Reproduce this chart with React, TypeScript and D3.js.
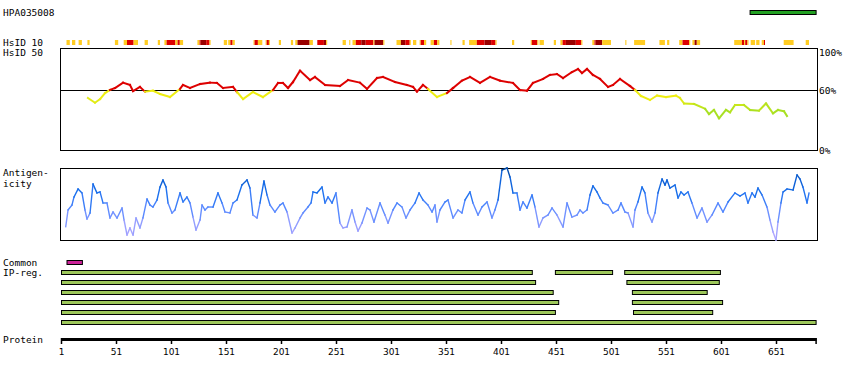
import React from "react";
import * as d3 from "d3";

const PROTEIN_LENGTH = 687;
const tickLabels = [1, 51, 101, 151, 201, 251, 301, 351, 401, 451, 501, 551, 601, 651];

// HsID 10 strip: [startResidue, endResidue, level] level 0=low,1=mid,2=high
const hsid10 = [
  [6, 9, 0], [11, 14, 0], [17, 20, 0], [25, 27, 0], [50, 53, 0], [58, 61, 0], [61, 67, 1], [67, 71, 0],
  [77, 80, 0], [89, 91, 0], [95, 97, 0], [97, 105, 1], [105, 107, 0], [107, 109, 1], [109, 112, 0],
  [125, 127, 0], [127, 128, 1], [128, 133, 2], [133, 136, 1], [136, 137, 0], [149, 152, 0], [153, 155, 0],
  [155, 157, 1], [157, 159, 0], [176, 177, 0], [177, 180, 1], [180, 184, 0], [187, 188, 0], [188, 190, 1],
  [190, 191, 0], [199, 201, 0], [210, 212, 0], [214, 216, 0], [216, 227, 2], [227, 230, 0], [234, 240, 1],
  [240, 242, 2], [242, 243, 0], [257, 260, 0], [263, 264, 0], [266, 269, 0], [269, 274, 1], [274, 278, 2],
  [278, 285, 1], [285, 286, 0], [286, 294, 2], [294, 295, 0], [306, 310, 0], [310, 314, 2], [314, 318, 1],
  [318, 319, 0], [321, 324, 0], [327, 328, 0], [328, 331, 1], [331, 333, 0], [337, 340, 0], [340, 343, 1],
  [343, 345, 0], [355, 356, 0], [366, 368, 0], [372, 379, 0], [379, 386, 1], [386, 392, 2], [392, 396, 1],
  [396, 397, 0], [411, 413, 0], [428, 429, 0], [429, 434, 1], [434, 435, 0], [436, 440, 0], [449, 451, 0],
  [455, 457, 0], [457, 460, 1], [460, 469, 2], [469, 474, 1], [474, 475, 0], [484, 486, 0], [486, 487, 1],
  [487, 493, 2], [493, 501, 0], [514, 515, 0], [522, 532, 0], [545, 550, 0], [552, 554, 0], [563, 566, 0],
  [566, 572, 1], [572, 573, 0], [575, 577, 0], [577, 579, 2], [579, 582, 0], [613, 620, 0], [620, 622, 1],
  [622, 623, 0], [623, 625, 1], [625, 626, 0], [628, 632, 0], [633, 636, 0], [638, 640, 0], [640, 641, 1],
  [658, 667, 0], [678, 681, 0],
];
const hsid10Colors = ["#FFCC22", "#DD0000", "#990000"];

// HsID 50 line: residue, percent identity
const hsid50Res = [25.5, 31.9, 36.5, 41, 45.5, 50.1, 57.4, 63.7, 66.5, 72.8, 77.4, 84.6, 91, 100.1, 109.2, 111.9, 118.3, 127.4, 136.5, 142.8, 148.3, 157.4, 161, 166.5, 175.5, 184.6, 193.7, 198.3, 202.8, 207.4, 211.9, 218.3, 227.4, 231.9, 241, 254.6, 261.9, 272.8, 279.2, 288.3, 293.7, 304.6, 315.5, 321, 324.6, 330.1, 334.6, 342.8, 351.9, 357.4, 365.5, 372.8, 381.9, 391, 400.1, 411.9, 418.3, 424.6, 430.1, 439.2, 445.5, 451.9, 457.4, 465.5, 471, 474.6, 479.2, 484.6, 491, 498.3, 502.8, 509.2, 518.3, 522.8, 528.3, 536.5, 542.8, 551, 560.1, 563.7, 567.4, 576.5, 586.5, 590.1, 594.6, 599.2, 605.5, 609.2, 613.7, 621.9, 627.4, 635.5, 641.9, 648.3, 652.8, 658.3, 661];
const hsid50Val = [52.4, 47.9, 51.4, 57.1, 60, 61.9, 67, 64.8, 59, 62.9, 58.4, 59.3, 56.2, 53.3, 61, 64.8, 61.9, 65.7, 67, 66.7, 61.9, 62.9, 58.1, 51.4, 58.1, 53.3, 60, 66.7, 66.7, 61.9, 67.6, 78.4, 69.5, 72.4, 64.8, 63.8, 69.5, 67, 61, 71.4, 72.4, 67.6, 64.8, 62.9, 58.4, 64.8, 61, 53.3, 57.1, 61.9, 68.9, 72.4, 66.7, 72.4, 68.9, 66.7, 60, 59.3, 66.7, 70.5, 74.3, 75.2, 71.4, 77.1, 80, 76.2, 80, 74.3, 70.5, 62.9, 64.8, 70.5, 63.8, 60, 54.3, 50.5, 54.7, 53.3, 54.7, 52.4, 47.2, 46.7, 42.1, 37.1, 41, 33, 41, 38.7, 45.7, 45.7, 41, 40.4, 47.2, 37.7, 41, 39.7, 35.2];

// Antigenicity: residue, score (0-100)
const antiRes = [5.3, 7.4, 11, 12.8, 16.5, 20.1, 22.8, 24.6, 27.4, 30.1, 33.7, 36.5, 39.2, 42.8, 45.5, 48.3, 51.9, 56.5, 58.3, 61, 63.7, 66.5, 69.2, 72.8, 75.5, 79.2, 81.9, 84.6, 88.3, 91, 93.7, 96.5, 98.3, 101.9, 104.6, 109.2, 111.9, 115.5, 118.3, 121, 123.7, 127.4, 129.2, 131.9, 134.6, 139.2, 143.7, 147.4, 150.1, 154.6, 157.4, 161, 165.5, 170.1, 172.8, 175.5, 179.2, 181.9, 185.5, 188.3, 191, 195.5, 200.1, 202.8, 206.5, 211, 213.7, 218.3, 221, 225.5, 228.3, 230.1, 233.7, 238.3, 241, 243.7, 247.4, 251, 254.6, 257.4, 261, 265.5, 268.3, 271, 274.6, 279.2, 281.9, 285.5, 291, 295.5, 298.3, 302.8, 306.5, 311, 314.6, 318.3, 322.8, 326.5, 330.1, 334.6, 338.3, 341, 342.8, 345.5, 350.1, 352.8, 357.4, 361.9, 365.5, 368.3, 372.8, 375.5, 380.1, 383.7, 388.3, 392.8, 395.5, 398.3, 401.9, 406.5, 409.2, 411.9, 415.5, 418.3, 421, 424.6, 429.2, 431.9, 435.5, 439.2, 443.7, 447.4, 451.9, 457.4, 461, 465.5, 470.1, 472.8, 475.5, 479.2, 481.9, 484.6, 488.3, 491, 493.7, 498.3, 502.8, 507.4, 510.1, 513.7, 516.5, 521, 522.8, 525.5, 529.2, 531.9, 534.6, 538.3, 541, 543.7, 547.4, 550.1, 551.9, 554.6, 559.2, 561.9, 564.6, 567.4, 571, 574.6, 579.2, 583.7, 588.3, 592.8, 598.3, 602.8, 607.4, 613.7, 618.3, 622.8, 625.5, 629.2, 631.9, 634.6, 638.3, 642.8, 645.5, 648.3, 651, 652.8, 655.5, 657.4, 661, 666.5, 670.1, 672.8, 675.5, 679.2, 681];
const antiVal = [18.5, 41.7, 48.6, 59.7, 70.8, 65.3, 41.7, 29.2, 37.5, 77.8, 65.3, 66.7, 51.4, 51.4, 30.6, 38.9, 30.6, 44.4, 27.8, 6.9, 16.7, 6.9, 30.6, 16.7, 30.6, 56.9, 48.6, 45.8, 55.6, 73.6, 83.3, 73.6, 51.4, 37.5, 41.7, 65.3, 52.8, 59.7, 51.4, 31.9, 13.9, 27.8, 48.6, 41.7, 45.8, 45.8, 65.3, 51.4, 38.9, 37.5, 51.4, 55.6, 76.4, 83.3, 72.2, 34.7, 30.6, 51.4, 81.9, 62.5, 48.6, 38.9, 48.6, 51.4, 38.9, 9.7, 16.7, 30.6, 37.5, 45.8, 51.4, 66.7, 65.3, 73.6, 51.4, 59.7, 51.4, 65.3, 23.6, 16.7, 18.1, 41.7, 25, 12.5, 23.6, 44.4, 41.7, 25, 51.4, 34.7, 23.6, 41.7, 51.4, 45.8, 30.6, 41.7, 51.4, 65.3, 55.6, 48.6, 38.9, 48.6, 25, 41.7, 52.8, 55.6, 30.6, 41.7, 37.5, 55.6, 66.7, 51.4, 34.7, 45.8, 52.8, 30.6, 41.7, 55.6, 97.2, 100, 87.5, 65.3, 65.3, 41.7, 52.8, 44.4, 62.5, 45.8, 18.1, 30.6, 34.7, 44.4, 34.7, 18.1, 51.4, 31.9, 34.7, 41.7, 37.5, 41.7, 62.5, 75, 66.7, 58.3, 51.4, 48.6, 37.5, 41.7, 51.4, 38.9, 37.5, 18.1, 41.7, 52.8, 73.6, 65.3, 37.5, 25, 37.5, 65.3, 84.7, 76.4, 83.3, 72.2, 76.4, 58.3, 66.7, 62.5, 66.7, 51.4, 30.6, 44.4, 25, 34.7, 51.4, 38.9, 52.8, 65.3, 61.1, 65.3, 51.4, 65.3, 59.7, 72.2, 62.5, 45.8, 27.8, 11.1, 0, 25, 51.4, 66.7, 70.8, 69.4, 90.3, 84.7, 73.6, 51.4, 65.3];

// Common region
const commonRegions = [[6, 20]];
// IP-reg rows: list of [start, end]
const ipRegRows = [
  [[1, 429], [450, 502], [513, 600]],
  [[1, 432], [515, 599]],
  [[1, 448], [520, 588]],
  [[1, 453], [520, 602]],
  [[1, 450], [521, 593]],
  [[1, 687]],
];
// Antibody antigen region (top right)
const antigenRegion = [[627, 687]];

const FONT = "DejaVu Sans Mono";

export default function App() {
  const x = d3.scaleLinear().domain([1, PROTEIN_LENGTH]).range([61, 815.6]);
  const yH = d3.scaleLinear().domain([0, 100]).range([153, 48]);
  const yA = d3.scaleLinear().domain([0, 100]).range([240, 168]);

  const hsColor = (v: number) => {
    if (v >= 59.5) return "#DD0000";
    const t = Math.max(0, Math.min(1, (v - 40) / 12));
    return d3.interpolateRgb("#A8E022", "#EEEE11")(t);
  };
  const antiColor = d3
    .scaleLinear<string>()
    .domain([0, 25, 45, 65, 85, 100])
    .range(["#B8A8FF", "#8E9CFF", "#5588FF", "#1A70EE", "#0A5CD0", "#004499"])
    .clamp(true);

  const hsSegs = hsid50Res.slice(1).map((r, i) => ({
    x1: x(hsid50Res[i]), y1: yH(hsid50Val[i]), x2: x(r), y2: yH(hsid50Val[i + 1]),
    c: hsColor((hsid50Val[i] + hsid50Val[i + 1]) / 2),
  }));
  const anSegs = antiRes.slice(1).map((r, i) => ({
    x1: x(antiRes[i]), y1: yA(antiVal[i]), x2: x(r), y2: yA(antiVal[i + 1]),
    c: antiColor((antiVal[i] + antiVal[i + 1]) / 2),
  }));

  const label = (t: string, lx: number, ly: number, anchor = "start") => (
    <text x={lx} y={ly} fontFamily={FONT} fontSize={9.5} textAnchor={anchor} fill="#000">{t}</text>
  );

  return (
    <svg width={850} height={380} style={{ position: "absolute", left: 0, top: 0, background: "#fff" }}>
      <rect x={0} y={0} width={850} height={380} fill="#fff" />
      {label("HPA035008", 3, 16)}
      {antigenRegion.map(([s, e], i) => (
        <rect key={i} x={x(s) + 0.5} y={10.5} width={x(e) - x(s)} height={4} fill="#22A022" stroke="#000" strokeWidth={1} />
      ))}
      {label("HsID 10", 3, 46)}
      {label("HsID 50", 3, 56)}
      {hsid10.map(([s, e, l], i) => (
        <rect key={i} x={x(s)} y={40} width={x(e) - x(s)} height={5} fill={hsid10Colors[l]} />
      ))}
      <rect x={60.5} y={48.5} width={757} height={102} fill="none" stroke="#000" strokeWidth={1} shapeRendering="crispEdges" />
      <line x1={60.5} x2={817.5} y1={yH(60) + 0.5} y2={yH(60) + 0.5} stroke="#000" strokeWidth={1} shapeRendering="crispEdges" />
      {label("100%", 819, 56)}
      {label("60%", 819, 94)}
      {label("0%", 819, 154)}
      {hsSegs.map((s, i) => (
        <line key={i} x1={s.x1} y1={s.y1} x2={s.x2} y2={s.y2} stroke={s.c} strokeWidth={2} strokeLinecap="square" />
      ))}

      {label("Antigen-", 3, 176)}
      {label("icity", 3, 187)}
      <rect x={60.5} y={168.5} width={757} height={72} fill="none" stroke="#000" strokeWidth={1} shapeRendering="crispEdges" />
      {anSegs.map((s, i) => (
        <line key={i} x1={s.x1} y1={s.y1} x2={s.x2} y2={s.y2} stroke={s.c} strokeWidth={1.4} strokeLinecap="square" />
      ))}

      {label("Common", 3, 266)}
      {label("IP-reg.", 3, 276)}
      {commonRegions.map(([s, e], i) => (
        <rect key={i} x={x(s) + 0.5} y={260.5} width={x(e) - x(s)} height={4} fill="#CC2299" stroke="#000" strokeWidth={1} />
      ))}
      {ipRegRows.map((row, ri) =>
        row.map(([s, e], i) => (
          <rect key={`${ri}-${i}`} x={x(s) + 0.5} y={270.5 + ri * 10} width={x(e) - x(s)} height={4} fill="#9DC75A" stroke="#000" strokeWidth={1} />
        ))
      )}

      {label("Protein", 3, 343)}
      <line x1={x(1)} x2={x(PROTEIN_LENGTH) + 1} y1={339.5} y2={339.5} stroke="#000" strokeWidth={3} />
      {[...tickLabels, PROTEIN_LENGTH].map((t, i) => (
        <line key={i} x1={x(t) + 0.5} x2={x(t) + 0.5} y1={338} y2={344} stroke="#000" strokeWidth={1.5} />
      ))}
      {tickLabels.map((t, i) => (
        <text key={i} x={x(t) + 0.5} y={355} fontFamily="DejaVu Sans" fontSize={9} textAnchor="middle" fill="#000">{t}</text>
      ))}
    </svg>
  );
}
